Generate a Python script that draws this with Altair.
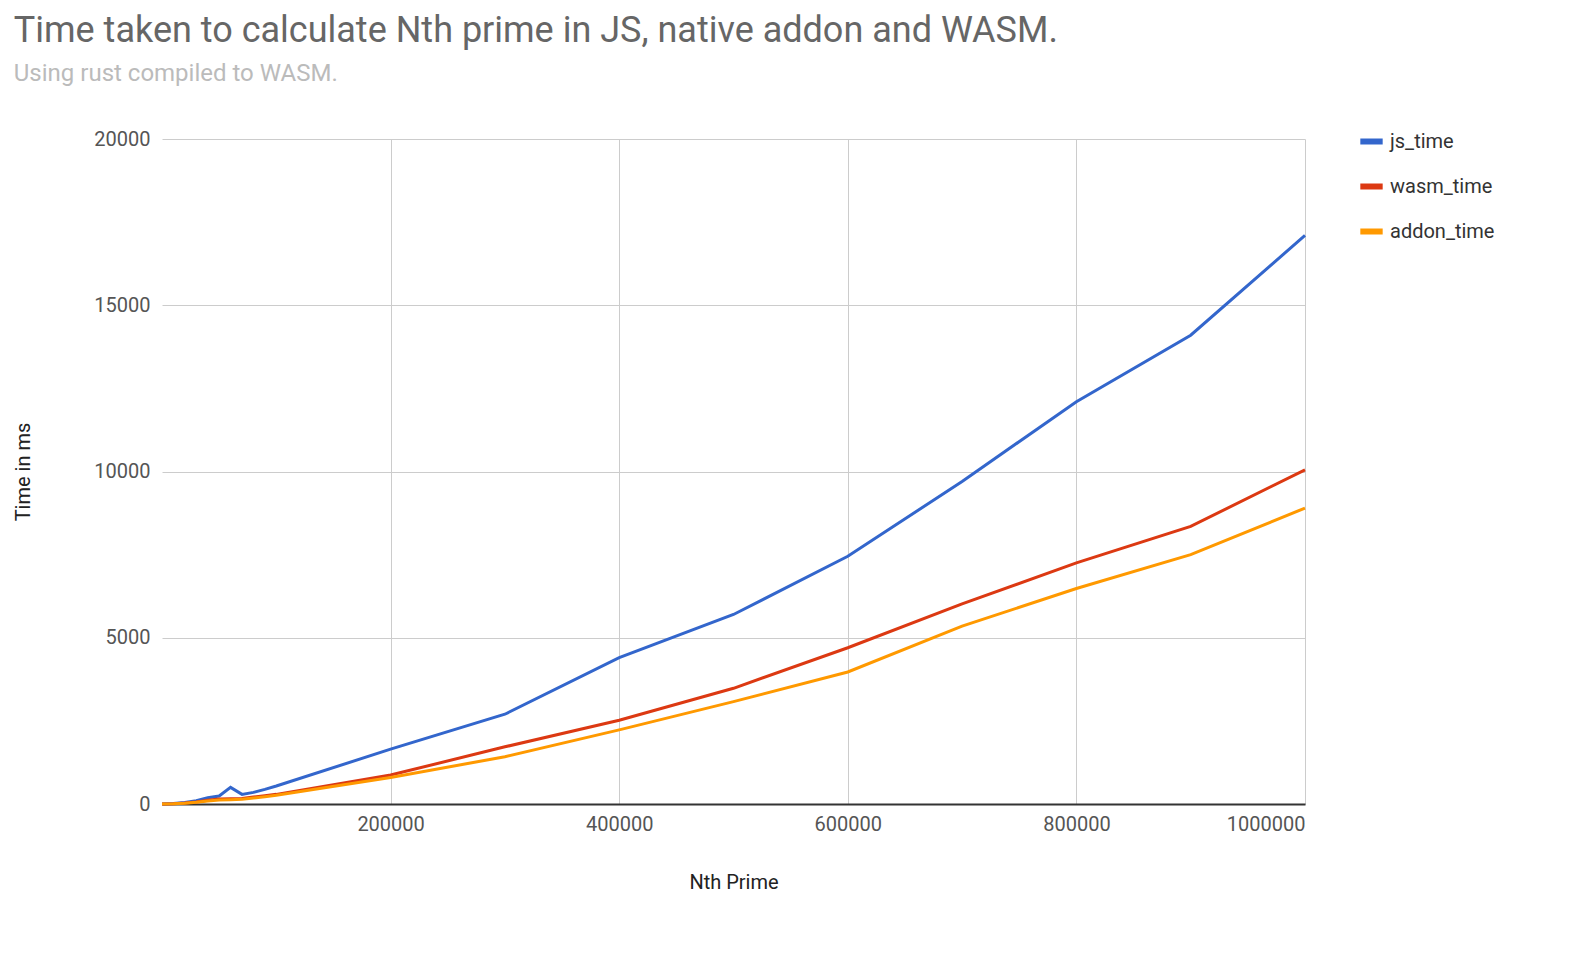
import altair as alt
import pandas as pd

n = [0, 10000, 20000, 30000, 40000, 50000, 60000, 70000, 80000, 90000, 100000,
     200000, 300000, 400000, 500000, 600000, 700000, 800000, 900000, 1000000]
js_time = [0, 15, 45, 100, 190, 240, 500, 290, 350, 440, 540,
           1650, 2700, 4400, 5700, 7450, 9700, 12100, 14100, 17100]
wasm_time = [0, 10, 30, 60, 110, 150, 160, 165, 210, 250, 290,
             870, 1720, 2520, 3480, 4700, 6020, 7250, 8350, 10050]
addon_time = [0, 8, 25, 50, 90, 120, 130, 140, 180, 220, 260,
              800, 1420, 2230, 3080, 3970, 5350, 6480, 7500, 8900]

series = ["js_time", "wasm_time", "addon_time"]
colors = ["#3366cc", "#dc3912", "#ff9900"]

df = pd.DataFrame({"n": n, "js_time": js_time, "wasm_time": wasm_time, "addon_time": addon_time})
long = df.melt("n", var_name="series", value_name="ms")

chart = (
    alt.Chart(long)
    .mark_line(strokeWidth=3)
    .encode(
        x=alt.X("n:Q", title="Nth Prime", scale=alt.Scale(domain=[0, 1000000], nice=False),
                axis=alt.Axis(values=[200000, 400000, 600000, 800000, 1000000], format="d",
                              titlePadding=38, labelPadding=10)),
        y=alt.Y("ms:Q", title="Time in ms", scale=alt.Scale(domain=[0, 20000], nice=False),
                axis=alt.Axis(values=[0, 5000, 10000, 15000, 20000], format="d",
                              titlePadding=60, labelPadding=12)),
        color=alt.Color("series:N", sort=series,
                        scale=alt.Scale(domain=series, range=colors),
                        legend=alt.Legend(title=None, orient="none", legendX=1195, legendY=-12,
                                          symbolType="stroke", symbolStrokeWidth=6, symbolSize=500,
                                          rowPadding=18, labelFontSize=20, labelColor="#333")),
        order="n:Q",
    )
    .properties(
        width=1143, height=665,
        title=alt.TitleParams("Time taken to calculate Nth prime in JS, native addon and WASM.",
                              subtitle="Using rust compiled to WASM.", anchor="start",
                              fontSize=36, fontWeight="normal", color="#666",
                              subtitleFontSize=24, subtitleColor="#bbb", subtitlePadding=12,
                              offset=40, dx=0),
    )
    .configure(font="Roboto")
    .configure_view(stroke=None)
    .configure_axis(grid=True, gridColor="#ccc", domain=False, ticks=False,
                    labelFontSize=20, labelColor="#555", titleFontSize=20,
                    titleFontWeight="normal", titleColor="#222")
    .configure_axisX(domain=True, domainColor="#333", domainWidth=2)
)

chart.save("out.html", embed_options={"renderer": "svg", "actions": False})
